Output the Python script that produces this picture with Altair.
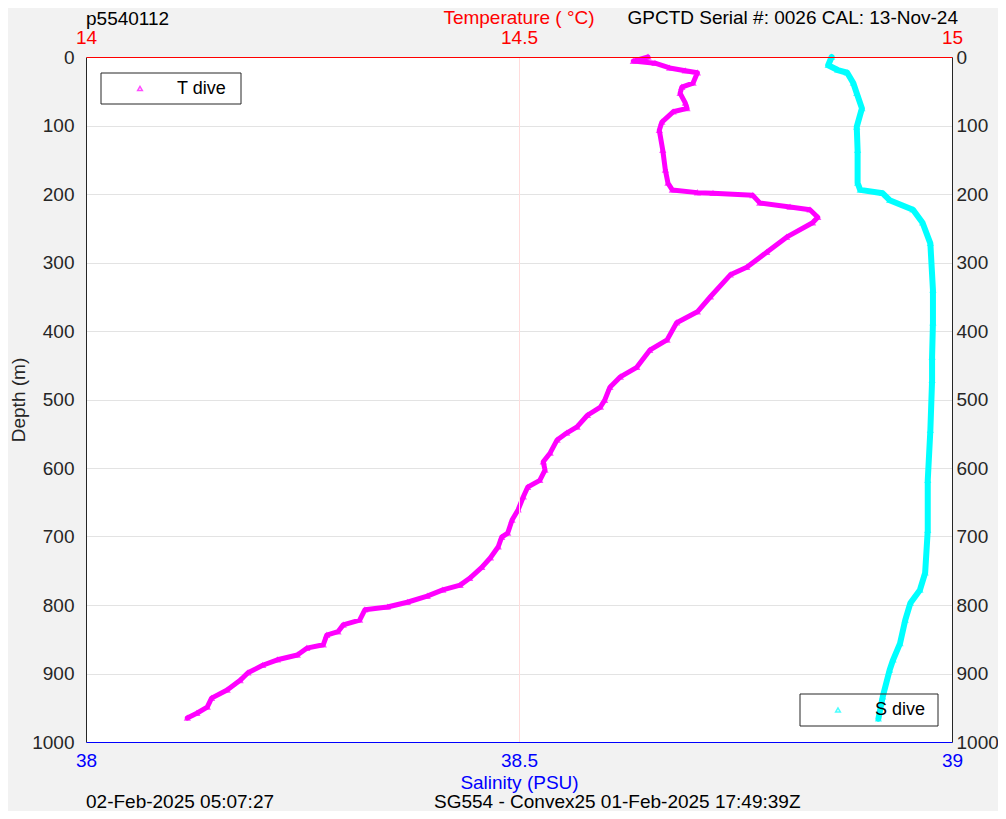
import altair as alt
import pandas as pd

# ---- data ----
t_depth = [0, 6, 9, 16, 20, 23, 38, 44, 53, 67, 75, 80, 95, 107, 136, 165, 184, 194, 198, 199,
           202, 213, 219, 223, 234, 242, 263, 285, 307, 318, 350, 372, 388, 413, 428, 453, 467, 482,
           501, 511, 523, 540, 549, 559, 578, 591, 603, 618, 628, 642, 661, 676, 695, 701, 715, 731,
           745, 761, 771, 778, 787, 796, 803, 807, 822, 829, 839, 844, 858, 863, 873, 880, 888, 899,
           910, 924, 936, 949, 958, 965]
t_temp = [14.649, 14.632, 14.657, 14.674, 14.692, 14.706, 14.701, 14.688, 14.686, 14.692, 14.694,
          14.678, 14.665, 14.662, 14.666, 14.669, 14.672, 14.677, 14.706, 14.724, 14.770, 14.778,
          14.813, 14.836, 14.845, 14.839, 14.809, 14.786, 14.763, 14.744, 14.721, 14.706, 14.682,
          14.671, 14.651, 14.636, 14.617, 14.605, 14.599, 14.594, 14.579, 14.567, 14.555, 14.544,
          14.536, 14.528, 14.530, 14.524, 14.510, 14.505, 14.499, 14.492, 14.487, 14.480, 14.476,
          14.467, 14.457, 14.443, 14.432, 14.412, 14.394, 14.371, 14.348, 14.322, 14.316, 14.297,
          14.291, 14.278, 14.274, 14.255, 14.244, 14.221, 14.204, 14.187, 14.178, 14.163, 14.145,
          14.140, 14.128, 14.117]

s_depth = [0, 12, 19, 23, 38, 53, 75, 102, 136, 184, 194, 199, 209, 223, 242, 272, 340, 388, 438,
           472, 545, 618, 691, 753, 778, 797, 822, 856, 880, 895, 934, 966]
s_sal = [38.861, 38.857, 38.868, 38.879, 38.886, 38.890, 38.896, 38.890, 38.891, 38.891, 38.894,
         38.920, 38.928, 38.955, 38.966, 38.975, 38.978, 38.978, 38.977, 38.977, 38.975, 38.972,
         38.972, 38.969, 38.963, 38.952, 38.946, 38.940, 38.932, 38.928, 38.920, 38.915]

temp_ticks = [14, 14.5, 15]
sal_ticks = [38, 38.5, 39]
depth_ticks = list(range(0, 1001, 100))

FONT = "Liberation Sans"
DARK = "#262626"
MAG = "#ff00ff"
CYAN = "#00ffff"

tdf = pd.DataFrame({"depth": t_depth, "temp": t_temp})
sdf = pd.DataFrame({"depth": s_depth, "sal": s_sal})
one = pd.DataFrame({"a": [0]})

yscale = alt.Scale(domain=[0, 1000], reverse=True, nice=False, zero=False)

t_enc = dict(
    x=alt.X("temp:Q", scale=alt.Scale(domain=[14, 15], nice=False, zero=False),
            axis=alt.Axis(orient="top", values=temp_ticks, format="~g", title=None,
                          labelColor="#ff0000", domainColor="#ff0000",
                          grid=True, gridColor="#ffdcdc",
                          gridOpacity={"condition": {"test": "datum.value > 14.2 && datum.value < 14.8",
                                                     "value": 1}, "value": 0},
                          ticks=False, labelFlush=False,
                          labelFontSize=19, labelFont=FONT, labelPadding=10, zindex=1)),
    y=alt.Y("depth:Q", scale=yscale,
            axis=alt.Axis(orient="left", values=depth_ticks, format="d", title="Depth (m)",
                          titleColor=DARK, labelColor=DARK, domainColor=DARK,
                          grid=True, gridColor="#e3e3e3",
                          gridOpacity={"condition": {"test": "datum.value > 10 && datum.value < 990",
                                                     "value": 1}, "value": 0},
                          ticks=False, labelFlush=False,
                          labelFontSize=19, titleFontSize=19, labelFont=FONT, titleFont=FONT,
                          titleFontWeight="normal", labelPadding=12, titlePadding=3)),
    order="depth:Q",
)
t_line = alt.Chart(tdf).mark_line(color=MAG, strokeWidth=5, strokeJoin="round",
                                  strokeCap="round").encode(**t_enc)
t_pts = alt.Chart(tdf).mark_point(shape="triangle-up", color=MAG, filled=False, size=22,
                                  strokeWidth=1.5).encode(**t_enc)
t_layer = alt.layer(t_line, t_pts)

s_enc = dict(
    x=alt.X("sal:Q", scale=alt.Scale(domain=[38, 39], nice=False, zero=False),
            axis=alt.Axis(orient="bottom", values=sal_ticks, format="~g", title="Salinity (PSU)",
                          titleColor="#0000ff", labelColor="#0000ff", domainColor="#0000ff",
                          grid=False, ticks=False, labelFlush=False,
                          labelFontSize=19, titleFontSize=19, labelFont=FONT, titleFont=FONT,
                          titleFontWeight="normal", labelPadding=9, titlePadding=3, zindex=1)),
    y=alt.Y("depth:Q", scale=yscale,
            axis=alt.Axis(orient="right", values=depth_ticks, format="d", title=None,
                          labelColor=DARK, domainColor=DARK, grid=False, ticks=False,
                          labelFlush=False, labelFontSize=19, labelFont=FONT, labelPadding=4,
                          zindex=1)),
    order="depth:Q",
)
s_line = alt.Chart(sdf).mark_line(color=CYAN, strokeWidth=6, strokeJoin="round",
                                  strokeCap="round").encode(**s_enc)
s_pts = alt.Chart(sdf).mark_point(shape="triangle-up", color=CYAN, filled=False, size=22,
                                  strokeWidth=1.5).encode(**s_enc)
s_layer = alt.layer(s_line, s_pts)


# ---- legends (boxes) ----
def legend(x0, x1, y0, y1, mx, label, color):
    box = alt.Chart(one).mark_rect(fill=None, stroke=DARK, strokeWidth=1).encode(
        x=alt.value(x0), x2=alt.value(x1), y=alt.value(y0), y2=alt.value(y1))
    sym = alt.Chart(one).mark_point(shape="triangle-up", color=color, filled=False, size=22,
                                    strokeWidth=1.5).encode(x=alt.value(mx), y=alt.value((y0 + y1) / 2))
    txt = alt.Chart(one).mark_text(text=label, font=FONT, fontSize=18, color="black",
                                   align="left", baseline="middle").encode(
        x=alt.value(mx + 37), y=alt.value((y0 + y1) / 2))
    return [box, sym, txt]


leg_t = legend(15, 155, 16, 47, 54, "T dive", MAG)
leg_s = legend(714, 852, 637, 669, 752, "S dive", CYAN)


# ---- header / footer texts (positions relative to the plot area) ----
def note(text, x, y, align, color="black"):
    return alt.Chart(one).mark_text(text=text, font=FONT, fontSize=19, color=color,
                                    align=align, baseline="middle").encode(
        x=alt.value(x), y=alt.value(y))


notes = [
    note("Temperature (    °C)", 433, -39, "center", "#ff0000"),
    note("p5540112", 0, -38, "left"),
    note("GPCTD Serial #: 0026 CAL: 13-Nov-24", 872, -39, "right"),
    note("02-Feb-2025 05:07:27", 0, 745, "left"),
    note("SG554 - Convex25 01-Feb-2025 17:49:39Z", 348, 745, "left"),
]

chart = alt.layer(t_layer, s_layer, *leg_t, *leg_s, *notes).resolve_scale(
    x="independent", y="independent"
).properties(
    width=866, height=685,
    autosize=alt.AutoSizeParams(type="none"),
    padding={"left": 78, "top": 49, "right": 46, "bottom": 69},
    background="#f2f2f2",
).configure_view(stroke=None, fill="white")

chart.save("out.html", embed_options={"renderer": "svg", "actions": False})
